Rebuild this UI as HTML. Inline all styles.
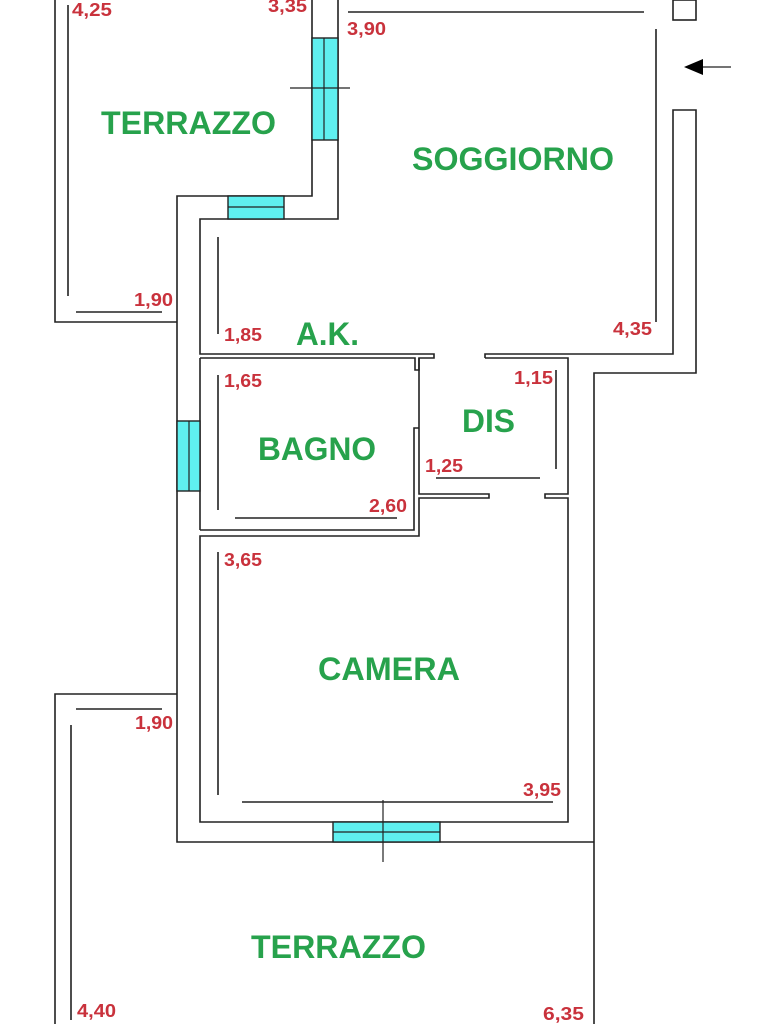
<!DOCTYPE html>
<html><head><meta charset="utf-8"><style>
html,body{margin:0;padding:0;background:#fff;}
svg{display:block}
.g{font-family:"Liberation Sans",sans-serif;font-weight:bold;fill:#27a24c;font-size:32px}
.r{font-family:"Liberation Sans",sans-serif;font-weight:bold;fill:#c9323c;font-size:18px}
</style></head><body>
<svg width="768" height="1024" viewBox="0 0 768 1024" xmlns="http://www.w3.org/2000/svg">
<g stroke="#222" stroke-width="1.6" fill="none">
<polyline points="55,0 55,322 177,322"/>
<line x1="68" y1="5" x2="68" y2="296"/>
<line x1="76" y1="312" x2="162" y2="312"/>
<polyline points="312,0 312,196 177,196 177,842 594,842"/>
<polyline points="338,0 338,219 200,219 200,354 434,354 434,358 419,358 419,370 415,370 415,358 200,358"/>
<line x1="348" y1="12" x2="644" y2="12"/>
<line x1="656" y1="29" x2="656" y2="322"/>
<rect x="673" y="0" width="23" height="20"/>
<polyline points="485,358 485,354 673,354 673,110 696,110 696,373 594,373 594,1024"/>
<polyline points="485,358 568,358 568,494 545,494 545,498 568,498 568,822 200,822 200,536 419,536 419,498 489,498 489,494 419,494 419,358"/>
<line x1="200" y1="358" x2="200" y2="530"/>
<polyline points="200,530 414,530 414,428 419,428"/>
<line x1="218" y1="237" x2="218" y2="334"/>
<line x1="218" y1="375" x2="218" y2="510"/>
<line x1="235" y1="518" x2="397" y2="518"/>
<line x1="556" y1="370" x2="556" y2="469"/>
<line x1="436" y1="478" x2="540" y2="478"/>
<line x1="218" y1="552" x2="218" y2="795"/>
<line x1="242" y1="802" x2="553" y2="802"/>
<polyline points="55,1024 55,694 177,694"/>
<line x1="71" y1="725" x2="71" y2="1020"/>
<line x1="76" y1="709" x2="162" y2="709"/>
</g>
<g stroke="#222" stroke-width="1.4" fill="#5ff0f0">
<rect x="312" y="38" width="26" height="102"/>
<rect x="228" y="196" width="56" height="23"/>
<rect x="177" y="421" width="23" height="70"/>
<rect x="333" y="822" width="107" height="20"/>
</g>
<g stroke="#222" stroke-width="1.2">
<line x1="324" y1="38" x2="324" y2="140"/>
<line x1="290" y1="88" x2="350" y2="88"/>
<line x1="228" y1="207" x2="284" y2="207"/>
<line x1="189" y1="421" x2="189" y2="491"/>
<line x1="333" y1="832" x2="440" y2="832"/>
<line x1="383" y1="800" x2="383" y2="862"/>
<line x1="700" y1="67" x2="731" y2="67"/>
</g>
<polygon points="684,67 703,59 703,75" fill="#000"/>
<g lengthAdjust="spacingAndGlyphs">
<text class="g" x="101" y="134" textLength="175" lengthAdjust="spacingAndGlyphs">TERRAZZO</text>
<text class="g" x="412" y="170" textLength="202" lengthAdjust="spacingAndGlyphs">SOGGIORNO</text>
<text class="g" x="296" y="345" textLength="63" lengthAdjust="spacingAndGlyphs">A.K.</text>
<text class="g" x="258" y="460" textLength="118" lengthAdjust="spacingAndGlyphs">BAGNO</text>
<text class="g" x="462" y="432" textLength="53" lengthAdjust="spacingAndGlyphs">DIS</text>
<text class="g" x="318" y="680" textLength="142" lengthAdjust="spacingAndGlyphs">CAMERA</text>
<text class="g" x="251" y="958" textLength="175" lengthAdjust="spacingAndGlyphs">TERRAZZO</text>
<text class="r" x="72" y="16" textLength="40" lengthAdjust="spacingAndGlyphs">4,25</text>
<text class="r" x="268" y="12" textLength="39" lengthAdjust="spacingAndGlyphs">3,35</text>
<text class="r" x="347" y="35" textLength="39" lengthAdjust="spacingAndGlyphs">3,90</text>
<text class="r" x="134" y="306" textLength="39" lengthAdjust="spacingAndGlyphs">1,90</text>
<text class="r" x="224" y="341" textLength="38" lengthAdjust="spacingAndGlyphs">1,85</text>
<text class="r" x="613" y="335" textLength="39" lengthAdjust="spacingAndGlyphs">4,35</text>
<text class="r" x="224" y="387" textLength="38" lengthAdjust="spacingAndGlyphs">1,65</text>
<text class="r" x="514" y="384" textLength="39" lengthAdjust="spacingAndGlyphs">1,15</text>
<text class="r" x="425" y="472" textLength="38" lengthAdjust="spacingAndGlyphs">1,25</text>
<text class="r" x="369" y="512" textLength="38" lengthAdjust="spacingAndGlyphs">2,60</text>
<text class="r" x="224" y="566" textLength="38" lengthAdjust="spacingAndGlyphs">3,65</text>
<text class="r" x="135" y="729" textLength="38" lengthAdjust="spacingAndGlyphs">1,90</text>
<text class="r" x="523" y="796" textLength="38" lengthAdjust="spacingAndGlyphs">3,95</text>
<text class="r" x="77" y="1017" textLength="39" lengthAdjust="spacingAndGlyphs">4,40</text>
<text class="r" x="543" y="1020" textLength="41" lengthAdjust="spacingAndGlyphs">6,35</text>
</g>
</svg>
</body></html>
